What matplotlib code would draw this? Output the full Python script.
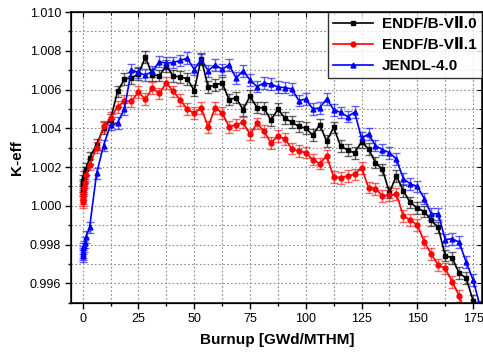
import numpy as np
import matplotlib
matplotlib.use("Agg")
from matplotlib import pyplot as plt
from matplotlib.ticker import MultipleLocator, FormatStrFormatter
from matplotlib.colors import to_rgba

plt.rcParams['font.family'] = ['Liberation Sans', 'DejaVu Sans']

# burnup points: a few short steps at start, then 3.125 GWd/MTHM steps
burnup = [0, 0.05, 0.1, 0.25, 0.5, 1.0, 1.5] + [3.125 * k for k in range(1, 58)]

keff_b70 = [1.0008, 1.0010, 1.0011, 1.0013, 1.0015, 1.0017, 1.0019,
            1.00248, 1.00316, 1.00402, 1.00445, 1.0059, 1.00654, 1.0066, 1.0068,
            1.00767, 1.00676, 1.00672, 1.00722, 1.0067, 1.00665, 1.00656, 1.00595,
            1.0076, 1.00613, 1.00622, 1.00635, 1.00548, 1.00558, 1.00496, 1.00566,
            1.00507, 1.00505, 1.00442, 1.00498, 1.00453, 1.00431, 1.0041, 1.004,
            1.00365, 1.00419, 1.00333, 1.00405, 1.00307, 1.00289, 1.00272, 1.0033,
            1.00293, 1.00223, 1.00188, 1.00068, 1.00155, 1.00076, 1.00017, 0.99988,
            0.9997, 0.99925, 0.99888, 0.99743, 0.99731, 0.99652, 0.99628, 0.9951,
            0.9944]

keff_b71 = [1.0002, 1.0004, 1.0003, 1.0006, 1.0009, 1.0012, 1.0016,
            1.00213, 1.003, 1.0041, 1.00453, 1.0051, 1.0054, 1.0054, 1.00586,
            1.0055, 1.00607, 1.0058, 1.00634, 1.0059, 1.00547, 1.00498, 1.00478,
            1.00505, 1.00408, 1.00506, 1.00479, 1.00408, 1.00419, 1.0043, 1.00368,
            1.00425, 1.00385, 1.00325, 1.00359, 1.00346, 1.00295, 1.00282, 1.00275,
            1.00238, 1.00218, 1.00256, 1.0015, 1.00145, 1.00154, 1.00162, 1.00196,
            1.00094, 1.00087, 1.00052, 1.00054, 1.0006, 0.99948, 0.99927, 0.999,
            0.99814, 0.99751, 0.99694, 0.99677, 0.99608, 0.99536, 0.9944, 0.9937,
            0.9930]

keff_jendl = [0.9974, 0.9976, 0.9975, 0.9978, 0.9979, 0.9981, 0.9984,
              0.99888, 1.00167, 1.00311, 1.00419, 1.00428, 1.005, 1.00702, 1.00688,
              1.00674, 1.00694, 1.00744, 1.00736, 1.0074, 1.0075, 1.00762, 1.00703,
              1.00755, 1.00697, 1.00728, 1.00704, 1.00728, 1.00659, 1.00696, 1.0065,
              1.00615, 1.00634, 1.00628, 1.00613, 1.0061, 1.00603, 1.00543, 1.00551,
              1.005, 1.00505, 1.00552, 1.00496, 1.00482, 1.0046, 1.00483, 1.0035,
              1.0037, 1.00311, 1.0029, 1.00274, 1.00241, 1.0014, 1.00113, 1.001,
              1.00037, 0.99958, 0.99959, 0.99825, 0.9983, 0.99812, 0.9971, 0.99618,
              0.9948]

sigma = 0.0003

series = [
    ("ENDF/B-VⅡ.0", keff_b70, "black", "s"),
    ("ENDF/B-VⅡ.1", keff_b71, "red", "o"),
    ("JENDL-4.0", keff_jendl, "blue", "^"),
]

fig = plt.figure(figsize=(4.83, 3.54), dpi=100)
ax = fig.add_axes([0.148, 0.145, 0.850, 0.821])

handles = []
for label, y, c, m in series:
    ax.errorbar(burnup, y, yerr=sigma, fmt="none", ecolor=to_rgba(c, 0.6),
                elinewidth=1.0, capsize=3, capthick=1.0, zorder=2)
    h, = ax.plot(burnup, y, color=c, marker=m, ms=3.5, lw=1.2, label=label,
                 zorder=3)
    handles.append(h)

ax.set_xlim(-5, 179)
ax.set_ylim(0.995, 1.010)
ax.xaxis.set_major_locator(MultipleLocator(25))
ax.xaxis.set_minor_locator(MultipleLocator(12.5))
ax.yaxis.set_major_locator(MultipleLocator(0.002))
ax.yaxis.set_minor_locator(MultipleLocator(0.001))
ax.yaxis.set_major_formatter(FormatStrFormatter("%.3f"))

ax.grid(True, which="both", linestyle=(0, (1.5, 2)), color="#8c8c8c", lw=0.8)
ax.set_axisbelow(True)

ax.tick_params(which="both", direction="out", labelsize=9, width=1.0)
ax.tick_params(which="major", length=4)
ax.tick_params(which="minor", length=2.5)
for s in ax.spines.values():
    s.set_linewidth(1.1)

# mirrored inward ticks on top and right
ax2 = ax.twiny()
ax2.set_xlim(ax.get_xlim())
ax2.xaxis.set_major_locator(MultipleLocator(25))
ax2.xaxis.set_minor_locator(MultipleLocator(12.5))
ax2.tick_params(which="both", direction="in", labeltop=False)
ax3 = ax.twinx()
ax3.set_ylim(ax.get_ylim())
ax3.yaxis.set_major_locator(MultipleLocator(0.002))
ax3.yaxis.set_minor_locator(MultipleLocator(0.001))
ax3.tick_params(which="both", direction="in", labelright=False)

ax.set_xlabel("Burnup [GWd/MTHM]", fontsize=11, fontweight="bold", labelpad=6)
ax.set_ylabel("K-eff", fontsize=11, fontweight="bold", labelpad=4)

leg = ax3.legend(handles=handles, loc="upper right",
                 prop={"weight": "bold", "size": 11}, frameon=True,
                 fancybox=False, borderaxespad=0, handlelength=2.6,
                 labelspacing=0.45, borderpad=0.35, handletextpad=0.6)
leg.get_frame().set_edgecolor("black")
leg.get_frame().set_linewidth(1.0)

fig.savefig("out.png", dpi=100)
